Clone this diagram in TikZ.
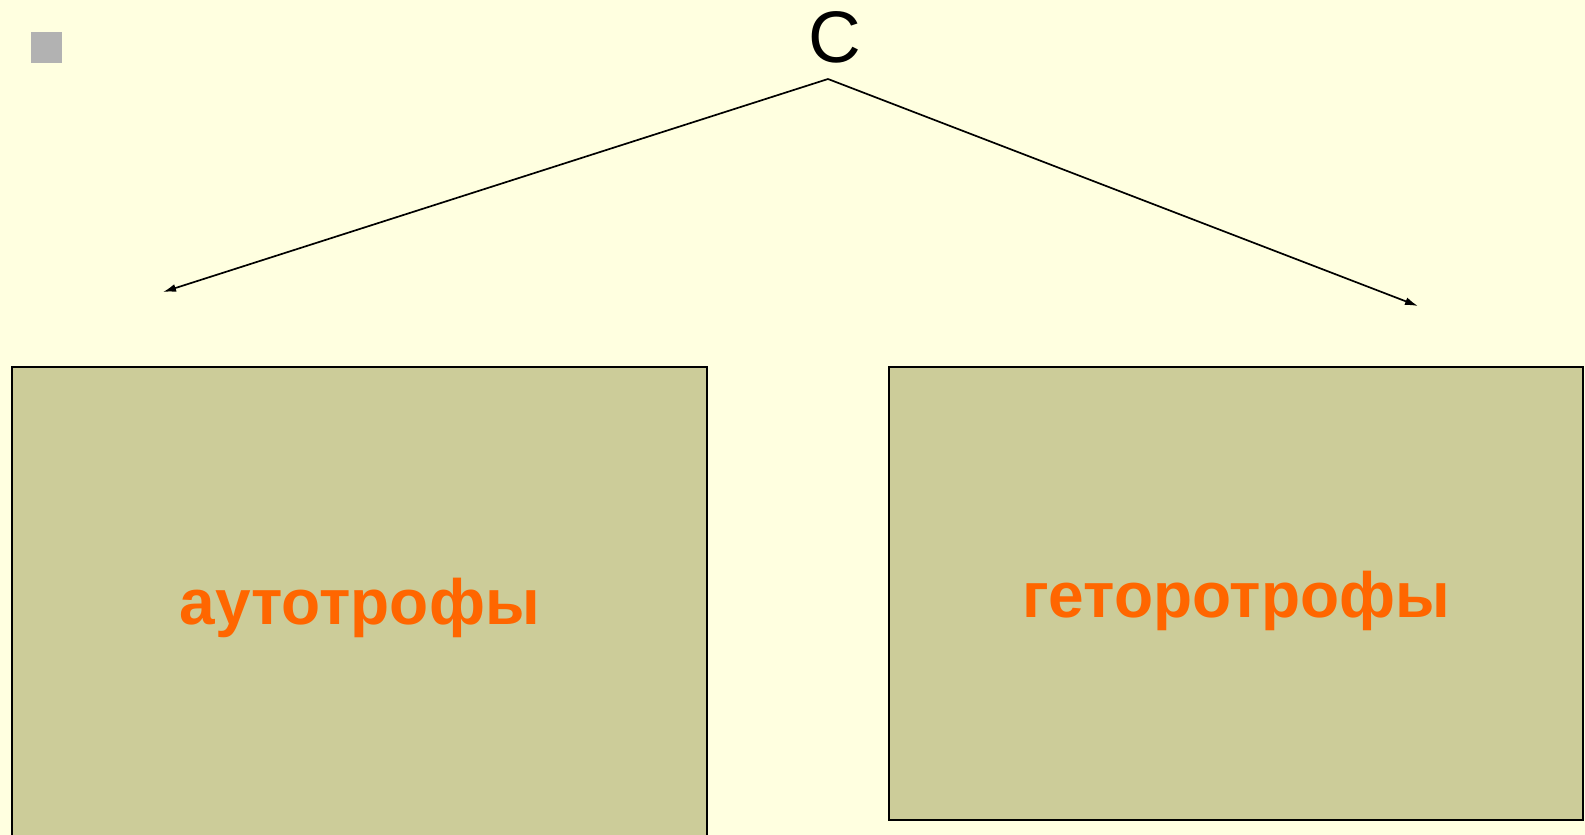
\documentclass[tikz,border=0pt]{standalone}
\usepackage{fontspec}
\setmainfont{Liberation Sans}
\usetikzlibrary{arrows.meta}
\definecolor{paper}{RGB}{255,255,224}
\definecolor{khaki}{RGB}{204,204,153}
\definecolor{tangerine}{RGB}{255,102,0}
\definecolor{bulletgray}{RGB}{178,178,178}
\begin{document}
\begin{tikzpicture}[x=1pt,y=-1pt,
  panel/.style={draw=black,line width=2pt,fill=khaki},
  label/.style={text=tangerine,font=\fontsize{64}{76}\selectfont\bfseries,inner sep=0pt,anchor=base},
  branch/.style={line width=1.7pt,-{Latex[length=13pt,width=8pt]}}]
  % page background
  \fill[paper] (0,0) rectangle (1585,835);
  \useasboundingbox (0,0) rectangle (1585,835);
  % bullet square
  \fill[bulletgray] (31,32) rectangle (62,63);
  % root letter
  \node[inner sep=0pt,anchor=base,font=\fontsize{73}{80}\selectfont] (root) at (835,62) {С};
  \coordinate (apex) at (828,79);
  \coordinate (leftend) at (163,292);
  \coordinate (rightend) at (1418,306);
  \draw[branch] (apex) -- (leftend);
  \draw[branch] (apex) -- (rightend);
  % two category panels
  \draw[panel] (12,367) rectangle (707,836);
  \draw[panel] (889,367) rectangle (1583,820);
  \node[label] (auto) at (359.5,624) {аутотрофы};
  \node[label] (hetero) at (1236,617) {геторотрофы};
\end{tikzpicture}
\end{document}
